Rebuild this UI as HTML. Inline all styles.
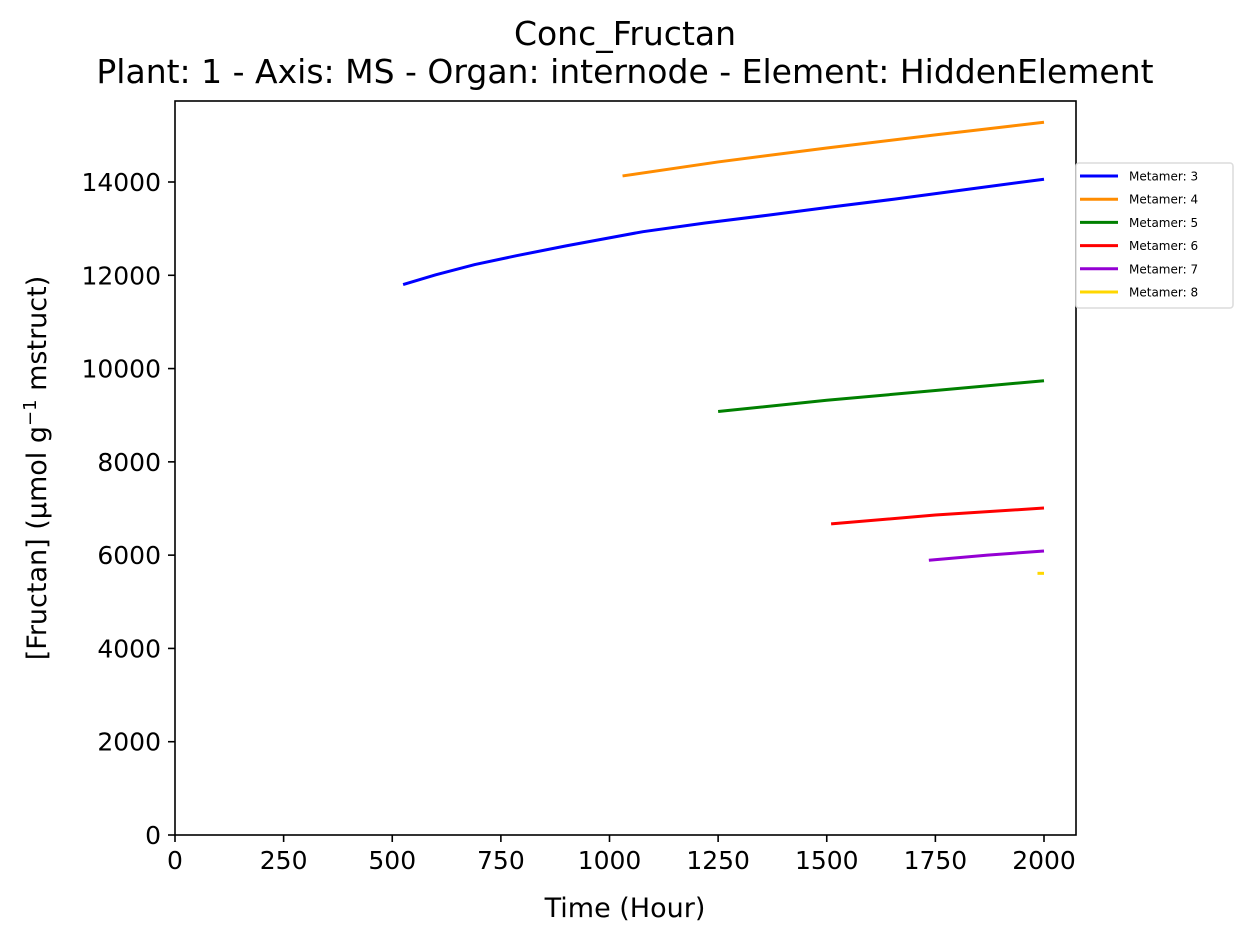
<!DOCTYPE html>
<html><head><meta charset="utf-8"><style>body{margin:0;background:#fff}svg{display:block;font-family:"DejaVu Sans","Liberation Sans",sans-serif}</style></head>
<body>
<svg id="chart" width="1251" height="942">
<rect x="0" y="0" width="1251" height="942" fill="#fff"/>
<text x="625" y="45" font-size="33" text-anchor="middle">Conc_Fructan</text>
<text x="625" y="83" font-size="33" text-anchor="middle">Plant: 1 - Axis: MS - Organ: internode - Element: HiddenElement</text>
<g id="plot"></g>
<text x="625" y="917" font-size="27" text-anchor="middle">Time (Hour)</text>
<text transform="translate(46,468) rotate(-90)" font-size="27" text-anchor="middle">[Fructan] (µmol g<tspan dy="-10" font-size="18">−1</tspan><tspan dy="10"> mstruct)</tspan></text>
<g id="legend"></g>
</svg>
<script>
const xTicks=[0,250,500,750,1000,1250,1500,1750,2000];
const yTicks=[0,2000,4000,6000,8000,10000,12000,14000];
const seriesNames=["Metamer: 3","Metamer: 4","Metamer: 5","Metamer: 6","Metamer: 7","Metamer: 8"];
const seriesColors=["#0000ff","#ff8c00","#008000","#ff0000","#9400d3","#ffd700"];
const m3x=[525,600,690,786,900,1077,1220,1366,1510,1656,1830,2000];
const m3y=[11800,12010,12230,12420,12630,12935,13120,13290,13465,13633,13850,14060];
const m4x=[1030,1250,1500,1750,2000];
const m4y=[14130,14430,14730,15010,15280];
const m5x=[1250,1500,1750,2000];
const m5y=[9080,9320,9530,9740];
const m6x=[1510,1750,2000];
const m6y=[6670,6860,7010];
const m7x=[1735,1870,2000];
const m7y=[5890,6000,6090];
const m8x=[1985,2000];
const m8y=[5610,5610];
const seriesX=[m3x,m4x,m5x,m6x,m7x,m8x];
const seriesY=[m3y,m4y,m5y,m6y,m7y,m8y];

const NS="http://www.w3.org/2000/svg";
const L=175,R=1076,T=101,B=835;
const sx=v=>175+v*(1044-175)/2000;
const sy=v=>835-v*(835-182)/14000;
const plot=document.getElementById('plot');
function mk(tag,attrs,parent){const e=document.createElementNS(NS,tag);for(const k in attrs)e.setAttribute(k,attrs[k]);parent.appendChild(e);return e;}
xTicks.forEach(t=>{
  const tk=mk('line',{x1:sx(t),x2:sx(t),y1:B,y2:B+7,stroke:'#000','stroke-width':1.6},plot);
  
  
  const tx=mk('text',{x:sx(t),y:B+34,'font-size':25,'text-anchor':'middle'},plot);
  tx.textContent=t;
  
  
});
yTicks.forEach(t=>{
  const tk=mk('line',{x1:L-7,x2:L,y1:sy(t),y2:sy(t),stroke:'#000','stroke-width':1.6},plot);
  
  
  const tx=mk('text',{x:L-14,y:sy(t)+9,'font-size':25,'text-anchor':'end'},plot);
  tx.textContent=t;
  
  
});
seriesX.forEach((xs,i)=>{
  const pts=xs.map((x,j)=>sx(x)+','+sy(seriesY[i][j])).join(' ');
  const pl=mk('polyline',{points:pts,fill:'none',stroke:seriesColors[i],'stroke-width':3,'stroke-linejoin':'round'},plot);
  
  
});
const fr=mk('rect',{x:L,y:T,width:R-L,height:B-T,fill:'none',stroke:'#000','stroke-width':1.6},plot);


const lg=document.getElementById('legend');
const box=mk('rect',{x:1076,y:163,width:157,height:145,rx:3,fill:'#fff',stroke:'#dcdcdc','stroke-width':1.5},lg);


seriesNames.forEach((n,i)=>{
  const y=176+i*23.2;
  const ln=mk('line',{x1:1080,x2:1118,y1:y,y2:y,stroke:seriesColors[i],'stroke-width':3},lg);
  
  
  const tx=mk('text',{x:1129,y:y+4.5,'font-size':12},lg);
  tx.textContent=n;
  
  
});
</script>
</body></html>
